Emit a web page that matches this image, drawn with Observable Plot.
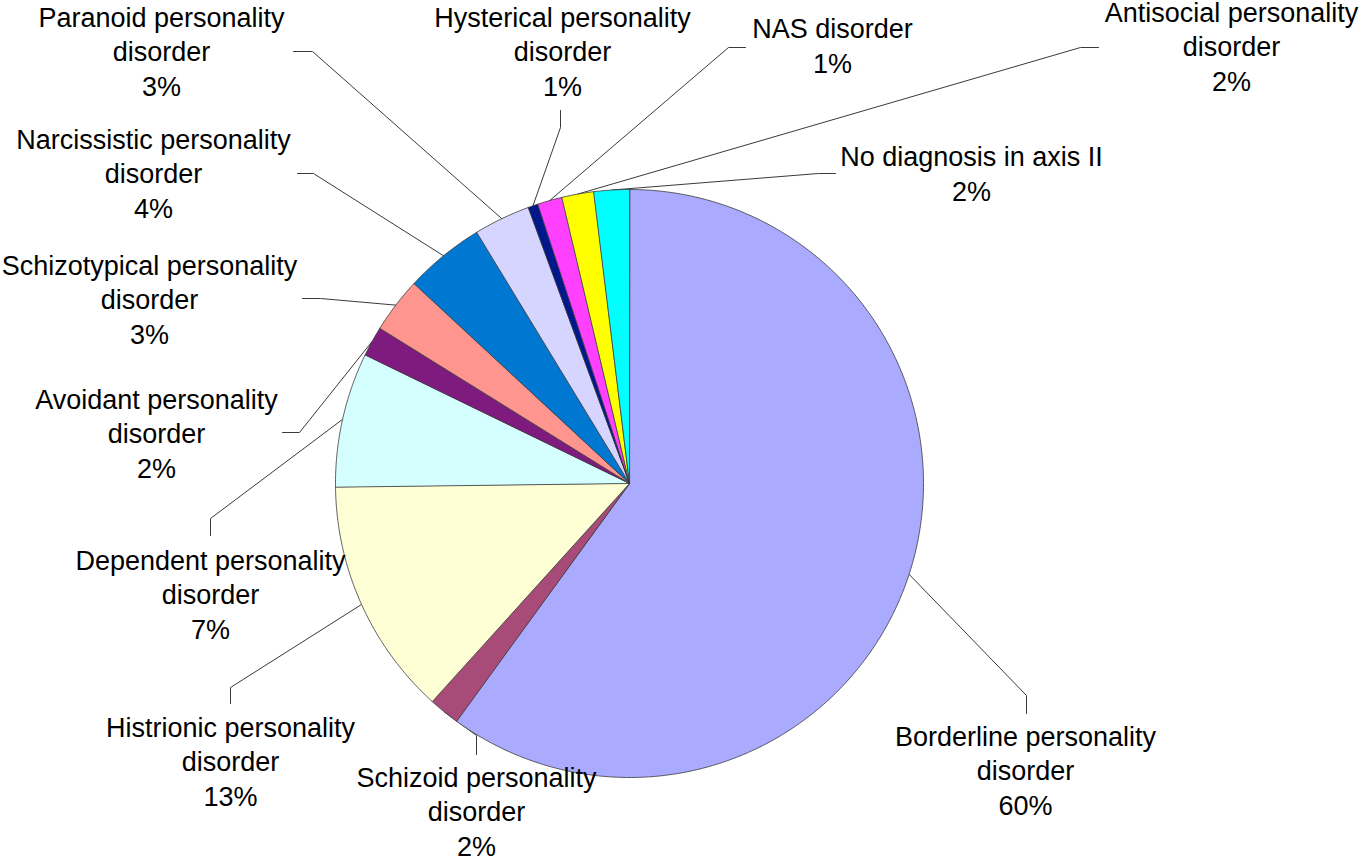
<!DOCTYPE html>
<html>
<head>
<meta charset="utf-8">
<script src="https://cdn.jsdelivr.net/npm/d3@7"></script>
<script src="https://cdn.jsdelivr.net/npm/@observablehq/plot@0.6"></script>
<style>
  html, body { margin: 0; padding: 0; background: #ffffff; overflow: hidden; }
  #chart svg { display: block; }
</style>
</head>
<body>
<div id="chart"></div>
<script>
// ---- Data ----
const categories = [
  "Borderline personality\ndisorder",
  "Schizoid personality\ndisorder",
  "Histrionic personality\ndisorder",
  "Dependent personality\ndisorder",
  "Avoidant personality\ndisorder",
  "Schizotypical personality\ndisorder",
  "Narcissistic personality\ndisorder",
  "Paranoid personality\ndisorder",
  "Hysterical personality\ndisorder",
  "NAS disorder",
  "Antisocial personality\ndisorder",
  "No diagnosis in axis II"
];
// share of patients, percent
const shares = [60.0, 1.7, 13.1, 7.4, 1.65, 3.05, 4.4, 3.1, 0.55, 1.35, 1.75, 1.95];

// ---- Styles ----
const palette = ["#AAAAFF", "#A84B78", "#FFFFD5", "#D5FFFF", "#7F1A7F", "#FF958F",
                 "#0078D2", "#D5D5FF", "#00188C", "#FF40FF", "#FFFF00", "#00FFFF"];

// ---- Layout (pixels) ----
const W = 1362, H = 859;
const CX = 629, CY = 483, R = 294;
const FONT = 27, LINE = 34.5;
// label centre x and baseline of last line
const labelX = [1025, 476, 230, 210, 156, 149, 153, 161, 562, 832, 1231, 971];
const labelY = [814, 855, 805, 638, 477, 343, 217, 95, 95, 72, 90, 200];
// leader line elbow and end of the short tick next to the label
const elbowX = [1026, 476, 230, 210, 299, 320, 313, 312, 560, 728, 1080, 818];
const elbowY = [695, 735, 687, 518, 432, 298, 173, 51, 127, 47, 47, 173];
const tickX  = [1026, 476, 230, 210, 282, 302, 297, 293, 560, 745, 1098, 835];
const tickY  = [713, 754, 703, 535, 432, 298, 173, 51, 110, 47, 47, 173];

// ---- Build tables ----
const rows = categories.map((name, i) => ({name, share: shares[i], color: palette[i]}));
const total = d3.sum(shares);
const arcs = d3.pie().sort(null).value(d => d.share)(rows);

const slicePts = arcs.flatMap(a => {
  const {name, color} = a.data;
  const pts = [{name, color, x: CX, y: CY}];
  const n = Math.max(2, Math.ceil((a.endAngle - a.startAngle) / (Math.PI / 360)));
  for (let k = 0; k <= n; ++k) {
    const ang = a.startAngle + (a.endAngle - a.startAngle) * k / n;
    pts.push({name, color, x: CX + R * Math.sin(ang), y: CY - R * Math.cos(ang)});
  }
  return pts;
});

const leaders = arcs.flatMap((a, i) => {
  const mid = (a.startAngle + a.endAngle) / 2;
  const name = a.data.name;
  return [
    {name, x: CX + R * Math.sin(mid), y: CY - R * Math.cos(mid)},
    {name, x: elbowX[i], y: elbowY[i]},
    {name, x: tickX[i], y: tickY[i]}
  ];
});

const labels = rows.map((d, i) => ({
  text: d.name + "\n" + Math.round(d.share / total * 100) + "%",
  x: labelX[i],
  y: labelY[i]
}));

const chart = Plot.plot({
  width: W,
  height: H,
  margin: 0,
  x: {domain: [0, W], range: [0, W], axis: null},
  y: {domain: [0, H], range: [0, H], axis: null},
  color: {type: "identity"},
  style: {fontFamily: "'Liberation Sans', Arial, sans-serif", background: "#ffffff", color: "#000000"},
  marks: [
    Plot.line(leaders, {x: "x", y: "y", z: "name", stroke: "#3a3a3a", strokeWidth: 1}),
    Plot.line(slicePts, {x: "x", y: "y", z: "name", fill: "color", stroke: "#3a3a3a",
                         strokeWidth: 0.8, curve: "linear-closed", strokeLinejoin: "round"}),
    Plot.text(labels, {x: "x", y: "y", text: "text", fontSize: FONT, lineAnchor: "bottom",
                       lineHeight: LINE / FONT, textAnchor: "middle", fill: "#000000"})
  ]
});
document.getElementById("chart").appendChild(chart);
</script>
</body>
</html>
